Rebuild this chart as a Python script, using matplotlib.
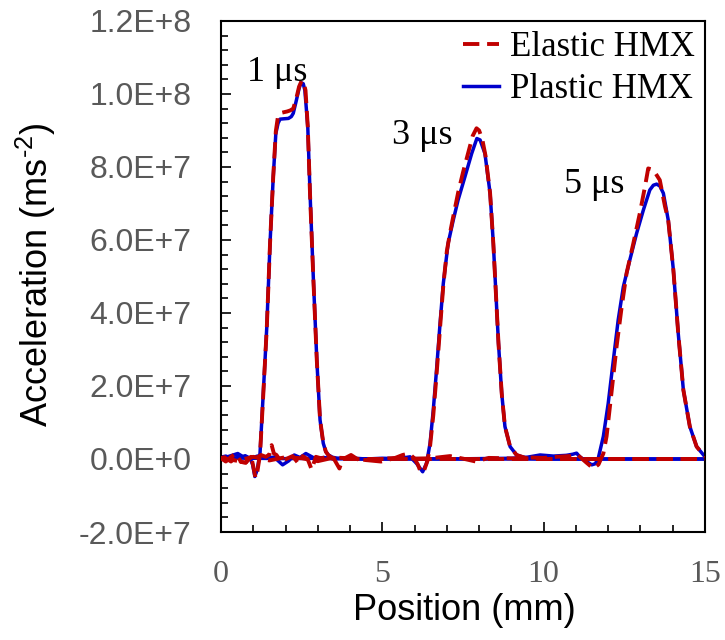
import matplotlib
matplotlib.use("Agg")
import matplotlib.pyplot as plt
from matplotlib.ticker import MultipleLocator, FuncFormatter

# ---- data (acceleration values in units of 1E6 m/s^2, position in mm) ----
pl1_x = [0, 0.15, 0.3, 0.45, 0.6, 0.75, 0.9, 0.98, 1.05, 1.12, 1.21, 1.31, 1.42, 1.52, 1.62, 1.70, 1.77,
         1.83, 1.95, 2.09, 2.18, 2.24, 2.34, 2.42, 2.48, 2.55, 2.60, 2.69, 2.76, 2.86, 2.97, 3.07, 3.17,
         3.25, 3.33, 3.45, 3.6, 3.8, 4.2, 5, 6, 7, 8, 9, 10, 11, 12, 13, 14, 15]
pl1_y = [0.5, 0.8, 0.2, 1.2, 0.4, 0.9, 0.2, -1.5, -4.8, -3.0, 1.6, 18.0, 36.2, 59.1, 77.3, 89.2, 92.0,
         93.1, 93.2, 93.3, 93.8, 94.7, 98.4, 101.5, 103.1, 102.8, 101.0, 91.0, 72.8, 50.0, 27.1, 10.7, 4.3,
         2.0, 1.1, 0.5, 0.2, 0.1, 0, 0, 0, 0, 0, 0, 0, 0, 0, 0, 0, 0]

el1_x = [0, 0.15, 0.31, 0.46, 0.62, 0.77, 0.93, 1.0, 1.07, 1.13, 1.21, 1.31, 1.42, 1.52, 1.62, 1.70, 1.76,
         1.85, 1.95, 2.05, 2.15, 2.24, 2.34, 2.42, 2.50, 2.56, 2.62, 2.69, 2.76, 2.86, 2.97, 3.07, 3.17,
         3.25, 3.33, 3.45, 3.6, 3.8, 4.2, 5, 6, 7, 8, 9, 10, 11, 12, 13, 14, 15]
el1_y = [0.2, -0.7, 0.6, 1.5, -0.8, -1.0, 1.0, -2.0, -5.2, -3.3, 1.2, 17.5, 36.0, 59.0, 77.5, 89.8, 93.5,
         94.8, 95.0, 95.2, 95.5, 96.0, 99.0, 102.0, 103.6, 103.3, 101.0, 91.0, 72.5, 50.0, 27.0, 10.8, 4.5,
         2.0, 1.0, 0.3, 0.1, 0, 0, 0, 0, 0, 0, 0, 0, 0, 0, 0, 0, 0]

pl3_x = [0, 0.2, 0.52, 0.82, 1.13, 1.4, 1.65, 1.91, 2.1, 2.27, 2.45, 2.63, 2.9, 3.2, 3.5, 4.0, 4.5, 5.0,
         5.5, 5.86, 6.06, 6.25, 6.37, 6.48, 6.58, 6.68, 6.79, 6.89, 7.04, 7.20, 7.35, 7.56, 7.77, 7.93,
         8.03, 8.18, 8.34, 8.44, 8.52, 8.60, 8.70, 8.80, 8.96, 9.16, 9.47, 10, 11, 12, 13, 14, 15]
pl3_y = [0.5, 0.6, 1.5, -0.1, 0.8, 0.3, 0.5, -1.6, -0.5, 1.1, 0.4, 1.5, 0.2, 0.4, 0.0, 0.3, 0.0, 0.2,
         0.1, 0.6, -1.2, -3.5, -1.2, 4.3, 13.5, 24.4, 37.2, 48.1, 59.1, 65.5, 71.0, 77.3, 83.7, 87.8,
         87.4, 83.7, 72.8, 59.1, 45.4, 31.7, 18.0, 8.9, 3.4, 1.1, 0.2, 0, 0, 0, 0, 0, 0]

el3_x = [0, 0.10, 0.31, 0.46, 0.62, 0.77, 0.93, 1.03, 1.13, 1.24, 1.39, 1.50, 1.57, 1.64, 1.72, 1.86,
         2.07, 2.22, 2.38, 2.53, 2.69, 2.81, 2.94, 3.10, 3.31, 3.51, 3.67, 3.77, 4.03, 4.24, 4.5, 4.96,
         5.37, 5.63, 5.83, 5.99, 6.1, 6.2, 6.3, 6.4, 6.48, 6.58, 6.68, 6.79, 6.89, 7.0, 7.1, 7.2, 7.35,
         7.5, 7.65, 7.8, 7.92, 8.0, 8.1, 8.2, 8.34, 8.44, 8.52, 8.60, 8.70, 8.80, 8.96, 9.16, 9.47, 10,
         11, 12, 13, 14, 15]
el3_y = [0.2, 0.5, -0.7, 0.6, -0.8, -1.0, 0.6, -0.7, 0.5, 1.1, 0.6, 1.2, 3.8, 1.5, 1.1, -0.7,
         0.2, 0.8, -1.0, 0.8, -0.1, -2.9, 0.6, 0.2, 0.6, -0.1, -2.6, -0.1, 1.1, -0.1, -0.3, -0.7,
         0.2, 1.1, 1.5, 0.2, -1.5, -3.8, -3.0, -0.5, 3.5, 12.0, 23.0, 36.0, 47.5, 57.0, 62.0, 66.5, 73.0,
         78.5, 83.5, 88.5, 90.6, 90.0, 87.5, 83.0, 72.8, 59.1, 45.4, 31.7, 18.0, 8.9, 3.4, 1.1, 0.2, 0,
         0, 0, 0, 0, 0]

pl5_x = [0, 1, 2, 3, 4, 5, 6, 7, 8, 9, 9.5, 9.89, 10.3, 10.7, 10.9, 11.02, 11.12, 11.33, 11.49, 11.6,
         11.69, 11.85, 12.00, 12.16, 12.31, 12.47, 12.67, 12.88, 13.09, 13.29, 13.40, 13.50, 13.60, 13.71,
         13.86, 14.02, 14.17, 14.33, 14.53, 14.74, 15.0]
pl5_y = [0.3, 0.2, 0.1, 0.2, 0.1, 0, 0.1, 0, 0.1, 0.2, 0.5, 1.1, 0.8, 1.0, 1.3, 1.6, 0.6, -0.7, -1.6, -1.3,
         0.1, 6.2, 15.2, 27.1, 38.1, 47.2, 54.5, 61.8, 68.2, 73.7, 75.0, 75.3, 74.8, 72.8,
         65.5, 51.8, 34.5, 18.9, 8.9, 3.4, 0.6]

el5_x = [0, 0.5, 1.0, 1.5, 2.0, 2.5, 3.0, 3.5, 4.0, 4.5, 5.0, 5.5, 6.0, 6.5, 7.1, 7.5, 7.9, 8.3, 8.8,
         9.2, 9.6, 10.0, 10.4, 10.8, 11.02, 11.12, 11.3, 11.54, 11.7, 11.85, 11.95, 12.1, 12.26, 12.42,
         12.57, 12.78, 12.98, 13.14, 13.24, 13.40, 13.6, 13.76, 13.86, 14.02, 14.17, 14.33, 14.53, 14.74, 15.0]
el5_y = [0.3, -0.5, 0.6, -0.4, 0.5, 0.2, -0.6, 0.4, 0.2, -0.3, 0.1, 0.3, 0.1, 0.2, 0.8, 0.1, -0.7, 0.3, 0.2,
         0.1, 0.4, 0.3, 0.6, 0.8, 1.3, 0.6, -0.8, -2.6, -1.5, 1.5, 6.2, 18.0, 30.8, 41.8,
         50.9, 59.1, 67.3, 74.6, 79.6, 79.2, 76.4, 69.2, 65.5, 51.8, 34.5, 18.9, 8.9, 3.4, 0.6]

labels = ["Elastic HMX", "Plastic HMX"]
time_labels = ["1 \u03bcs", "3 \u03bcs", "5 \u03bcs"]
time_label_pos = [(1.74, 106.0), (6.23, 88.5), (11.56, 75.3)]
y_ticks = [-2.0e7, 0.0, 2.0e7, 4.0e7, 6.0e7, 8.0e7, 1.0e8, 1.2e8]
x_ticks = [0, 5, 10, 15]
SCALE = 1e6

RED = "#C00000"
BLUE = "#0000CC"
GRAY = "#595959"
SANS = ["Liberation Sans", "DejaVu Sans"]
SERIF = ["Liberation Serif", "DejaVu Serif"]

plt.rcParams["mathtext.fontset"] = "custom"
plt.rcParams["mathtext.rm"] = "Liberation Sans"
plt.rcParams["mathtext.it"] = "Liberation Sans:italic"
plt.rcParams["mathtext.bf"] = "Liberation Sans:bold"

fig = plt.figure(figsize=(7.25, 6.4), dpi=100)
ax = fig.add_axes([0.3048, 0.16875, 0.6676, 0.7985])

plastic = [(pl1_x, pl1_y), (pl3_x, pl3_y), (pl5_x, pl5_y)]
elastic = [(el1_x, el1_y), (el3_x, el3_y), (el5_x, el5_y)]

pl_handle = None
el_handle = None
for i, (xs, ys) in enumerate(plastic):
    h, = ax.plot(xs, [v * SCALE for v in ys], color=BLUE, lw=2.5, solid_joinstyle="round", zorder=2)
    if i == 0:
        pl_handle = h
for i, (xs, ys) in enumerate(elastic):
    h, = ax.plot(xs, [v * SCALE for v in ys], color=RED, lw=2.8, dashes=(4.2, 2.0), zorder=3)
    if i == 0:
        el_handle = h

ax.set_xlim(0, 15)
ax.set_ylim(-2.0e7, 1.2e8)
ax.set_xticks(x_ticks)
ax.set_yticks(y_ticks)
ax.xaxis.set_minor_locator(MultipleLocator(1))
ax.yaxis.set_minor_locator(MultipleLocator(4e6))


def yfmt(v, pos):
    if v == 0:
        return "0.0E+0"
    s = "%.1E" % v
    mant, ex = s.split("E")
    return "%sE+%d" % (mant, int(ex))


ax.yaxis.set_major_formatter(FuncFormatter(yfmt))
ax.xaxis.set_major_formatter(FuncFormatter(lambda v, p: "%d" % v))

ax.tick_params(axis="both", which="both", direction="in", top=False, right=False,
               width=1.2, color="black")
ax.tick_params(axis="both", which="major", length=7)
ax.tick_params(axis="both", which="minor", length=5)
ax.tick_params(axis="y", which="major", pad=21, labelcolor=GRAY)
ax.tick_params(axis="x", which="major", pad=20, labelcolor=GRAY)
for lab in ax.get_yticklabels():
    lab.set_fontfamily(SANS)
    lab.set_fontsize(23)
for lab in ax.get_xticklabels():
    lab.set_fontfamily(SERIF)
    lab.set_fontsize(23)

for sp in ax.spines.values():
    sp.set_linewidth(1.5)
    sp.set_color("black")

fig.text(0.6400, 1 - 610 / 640, "Position (mm)", ha="center", va="center",
         fontsize=26, family=SANS, color="black")
fig.text(36 / 725, 1 - 275 / 640, "Acceleration (ms$^{\\text{-2}}$)", ha="center", va="center",
         rotation=90, fontsize=26, family=SANS, color="black")

for txt, (px, py) in zip(time_labels, time_label_pos):
    ax.text(px, py * SCALE, txt, ha="center", va="center", fontsize=26,
            family=SERIF, color="black")

leg = ax.legend([el_handle, pl_handle], labels, loc="upper left", bbox_to_anchor=(0.50, 0.98),
                frameon=False, prop={"family": SERIF, "size": 25}, handlelength=1.05,
                handletextpad=0.3, labelspacing=0.26, borderpad=0, borderaxespad=0)

fig.savefig("out.png", dpi=100)
